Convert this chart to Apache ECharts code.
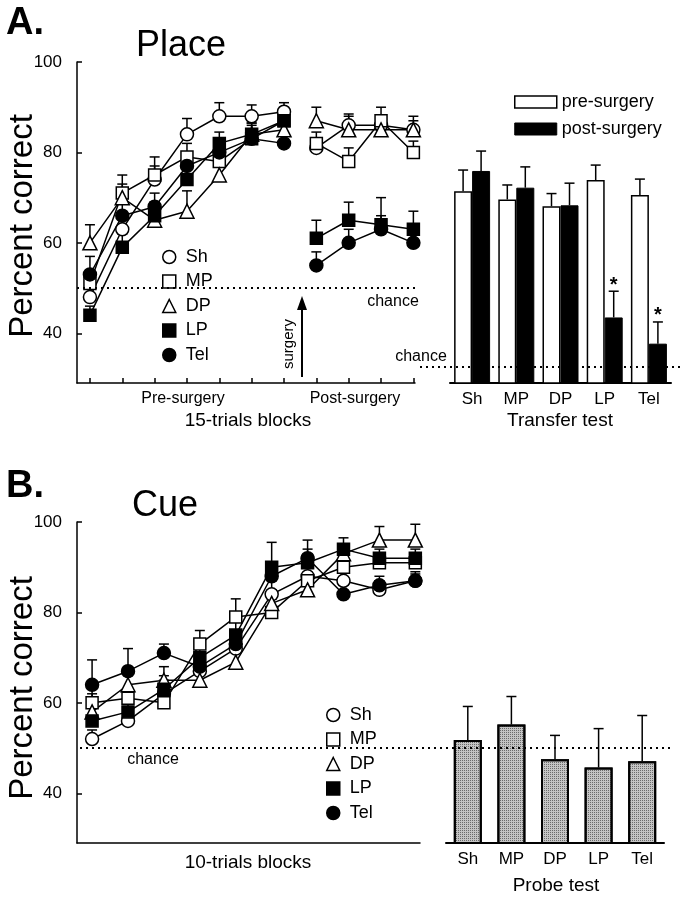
<!DOCTYPE html>
<html><head><meta charset="utf-8">
<script src="https://cdn.jsdelivr.net/npm/echarts@6/dist/echarts.min.js"></script>
<style>html,body{margin:0;padding:0;background:#fff}#c{width:688px;height:900px}</style>
</head><body><div id="c"></div>
<script>
// ---------- DATA ----------
const groups = ['Sh', 'MP', 'DP', 'LP', 'Tel'];
// Panel A (Place) – 15-trial blocks, pre-surgery (7) and post-surgery (4)
const placePre = {
  Sh:  [48, 63, 74, 84, 88, 88, 89],
  MP:  [51, 71, 75, 79, 78, 83, 87],
  DP:  [60, 70, 65, 67, 75, 84, 85],
  LP:  [44, 59, 66, 74, 82, 84, 87],
  Tel: [53, 66, 68, 77, 80, 83, 82]
};
const placePreErr = {
  Sh:  [2, 3, 3, 3.5, 3, 2.5, 2],
  MP:  [2, 4, 4, 3, 3, 3, 2.5],
  DP:  [4, 3, 4, 4.5, 3, 2.5, 2],
  LP:  [2, 3, 3, 3, 2.5, 2.5, 2],
  Tel: [4, 3, 3, 3, 3, 2, 2]
};
const placePost = {
  Sh:  [81, 86, 86, 85],
  MP:  [82, 78, 87, 80],
  DP:  [87, 85, 85, 85],
  LP:  [61, 65, 64, 63],
  Tel: [55, 60, 63, 60]
};
const placePostErr = {
  Sh:  [2, 2.5, 2, 2],
  MP:  [2.5, 3, 3, 2.5],
  DP:  [3, 3, 3, 3],
  LP:  [4, 4, 6, 4],
  Tel: [3, 3, 3, 3]
};
// Transfer test
const transferPre = [71.4, 69.6, 68.1, 73.9, 70.6];
const transferPreErr = [4.7, 3.2, 2.8, 3.3, 3.5];
const transferPost = [75.9, 72.2, 68.3, 43.5, 37.7];
const transferPostErr = [4.4, 4.6, 4.9, 5.8, 4.8];
const transferSig = ['', '', '', '*', '*'];
const transferChance = 32.5;
// Panel B (Cue) – 10-trial blocks
const cue = {
  Sh:  [52, 56, 62, 67, 72, 84, 88, 87, 85, 87],
  MP:  [60, 61, 60, 73, 79, 80, 87, 90, 91, 91],
  DP:  [58, 64, 65, 65, 69, 82, 85, 93, 96, 96],
  LP:  [56, 58, 63, 70, 75, 90, 91, 94, 92, 92],
  Tel: [64, 67, 71, 68, 73, 88, 92, 84, 86, 87]
};
const cueErr = {
  Sh:  [2, 3, 3, 3, 3, 3, 2, 2, 2, 1.5],
  MP:  [4, 5, 3, 3, 4, 3, 3, 2, 2, 2],
  DP:  [4, 4, 3, 3, 3, 3, 3, 2, 3, 3.5],
  LP:  [4, 4, 3, 3, 3, 5.5, 3, 2.5, 2, 2],
  Tel: [5.5, 5, 2, 3, 3, 3, 4, 2, 2, 2]
};
// Probe test
const probe = [51.8, 55.2, 47.5, 45.7, 47.1];
const probeErr = [7.4, 6.2, 5.3, 8.6, 10.1];
const chance = 50;
const yTicks = [40, 60, 80, 100];

// ---------- STYLE ----------
const FONT = '"Liberation Sans", Arial, sans-serif';
const symbols = {Sh: 'circle', MP: 'rect', DP: 'triangle', LP: 'rect', Tel: 'circle'};
const fills = {Sh: '#fff', MP: '#fff', DP: '#fff', LP: '#000', Tel: '#000'};
const sizes = {Sh: 13, MP: 12, DP: 14, LP: 12, Tel: 13};

function lineSeries(name, values, xOffset, ai) {
  return {
    type: 'line', name, xAxisIndex: ai, yAxisIndex: ai,
    data: values.map((v, i) => [i + xOffset, v]),
    symbol: symbols[name], symbolSize: sizes[name],
    lineStyle: {color: '#000', width: 1.5},
    itemStyle: {color: fills[name], borderColor: '#000', borderWidth: 1.5},
    z: 3, animation: false, silent: true
  };
}
function errRender(dx, marks) {
  return function (params, api) {
    const x = api.value(0), y = api.value(1), e = api.value(2);
    const p0 = api.coord([x, y]), p1 = api.coord([x, y + e]);
    const cx = p0[0] + dx;
    const children = [
      {type: 'line', shape: {x1: cx, y1: p0[1], x2: cx, y2: p1[1]}, style: {stroke: '#000', lineWidth: 1.5}},
      {type: 'line', shape: {x1: cx - 5, y1: p1[1], x2: cx + 5, y2: p1[1]}, style: {stroke: '#000', lineWidth: 1.5}}
    ];
    if (marks && marks[params.dataIndex]) {
      children.push({type: 'text', style: {text: marks[params.dataIndex], x: cx, y: p1[1] - 6,
        align: 'center', verticalAlign: 'middle', font: 'bold 20px ' + FONT, fill: '#000'}});
    }
    return {type: 'group', children};
  };
}
function errSeries(values, errs, xOffset, ai, dx, marks, z) {
  return {
    type: 'custom', xAxisIndex: ai, yAxisIndex: ai,
    data: values.map((v, i) => [i + xOffset, v, errs[i]]),
    renderItem: errRender(dx || 0, marks), z: z || 2, silent: true, animation: false
  };
}
const dotted = {color: '#000', width: 2, type: [2, 4]};

const series = [];
groups.forEach(g => {
  series.push(errSeries(placePre[g], placePreErr[g], 0, 0));
  series.push(errSeries(placePost[g], placePostErr[g], 7, 0));
  series.push(lineSeries(g, placePre[g], 0, 0));
  series.push(lineSeries(g, placePost[g], 7, 0));
  series.push(errSeries(cue[g], cueErr[g], 0, 2));
  series.push(lineSeries(g, cue[g], 0, 2));
});
// chance lines
series[2].markLine = {silent: true, symbol: 'none', label: {show: false}, lineStyle: dotted, data: [{yAxis: chance}]};
series[5].markLine = {silent: true, symbol: 'none', label: {show: false}, lineStyle: dotted,
  data: [[{yAxis: chance, x: 80}, {yAxis: chance, x: 670}]]};

// transfer bars
series.push({
  type: 'bar', name: 'pre-surgery', xAxisIndex: 1, yAxisIndex: 1, data: transferPre,
  barWidth: 18, barGap: '0%', itemStyle: {color: '#fff', borderColor: '#000', borderWidth: 1.5},
  animation: false, silent: true,
  markLine: {silent: true, symbol: 'none', label: {show: false}, lineStyle: dotted,
    data: [[{yAxis: transferChance, x: 420}, {yAxis: transferChance, x: 684}]]}
});
series.push({
  type: 'bar', name: 'post-surgery', xAxisIndex: 1, yAxisIndex: 1, data: transferPost,
  barWidth: 18, barGap: '0%', itemStyle: {color: '#000', borderColor: '#000', borderWidth: 1},
  animation: false, silent: true
});
series.push(errSeries(transferPre, transferPreErr, 0, 1, -9, null, 4));
series.push(errSeries(transferPost, transferPostErr, 0, 1, 9, transferSig, 4));
// probe bars
series.push({
  type: 'bar', name: 'probe', xAxisIndex: 3, yAxisIndex: 3, data: probe,
  barWidth: 28,
  itemStyle: {color: '#c4c4c4', borderColor: '#000', borderWidth: 2,
    decal: {symbol: 'rect', symbolSize: 1, color: 'rgba(0,0,0,0.45)', dashArrayX: [1, 1], dashArrayY: [1, 1], rotation: 0}},
  animation: false, silent: true
});
series.push(errSeries(probe, probeErr, 0, 3, 0, null, 4));

const axisLine = {show: true, onZero: false, lineStyle: {color: '#000', width: 1.5}};
function yAxisLine(gi) {
  return {
    type: 'value', gridIndex: gi, min: 29, max: 100,
    axisLine: axisLine, splitLine: {show: false},
    axisTick: {show: true, inside: true, length: 5, customValues: yTicks, lineStyle: {color: '#000', width: 1.5}},
    axisLabel: {show: true, customValues: yTicks, color: '#000', fontSize: 17, fontFamily: FONT, margin: 15}
  };
}
function yAxisHidden(gi) {
  return {type: 'value', gridIndex: gi, min: 29, max: 100, show: false, splitLine: {show: false}};
}
function catAxis(gi) {
  return {
    type: 'category', gridIndex: gi, data: groups,
    axisLine: {show: true, onZero: false, lineStyle: {color: '#000', width: 2}},
    axisTick: {show: false},
    axisLabel: {color: '#000', fontSize: 17, fontFamily: FONT, margin: 8}
  };
}

const legendText = {color: '#000', fontSize: 18, fontFamily: FONT, padding: [0, 0, 0, 5]};
function symLegend(left, top) {
  return {
    orient: 'vertical', left, top, padding: 0, itemWidth: 13, itemHeight: 13, itemGap: 6.5,
    selectedMode: false, textStyle: legendText,
    data: groups.map(g => ({name: g, icon: symbols[g],
      itemStyle: {color: fills[g], borderColor: '#000', borderWidth: 1.5}}))
  };
}

const txt = (text, x, y, font, opts) => Object.assign({
  type: 'text', x, y, silent: true,
  style: {text, font: font + ' ' + FONT, fill: '#000', align: (opts && opts.align) || 'center', verticalAlign: 'middle'}
}, opts && opts.el ? opts.el : {});

const option = {
  backgroundColor: '#fff',
  animation: false,
  grid: [
    {left: 77, top: 62, width: 338, height: 321},
    {left: 450, top: 62, width: 221, height: 321},
    {left: 77, top: 522, width: 343, height: 321},
    {left: 446, top: 522, width: 218, height: 321}
  ],
  xAxis: [
    {type: 'value', gridIndex: 0, min: -0.4, max: 10.05, axisLine: axisLine, splitLine: {show: false},
      axisTick: {show: true, inside: true, length: 5, customValues: [0,1,2,3,4,5,6,7,8,9,10], lineStyle: {color: '#000', width: 1.5}},
      axisLabel: {show: false}},
    catAxis(1),
    {type: 'value', gridIndex: 2, min: -0.42, max: 9.13, axisLine: axisLine, splitLine: {show: false},
      axisTick: {show: false}, axisLabel: {show: false}},
    catAxis(3)
  ],
  yAxis: [yAxisLine(0), yAxisHidden(1), yAxisLine(2), yAxisHidden(3)],
  legend: [
    symLegend(162, 248),
    symLegend(326, 706),
    {orient: 'vertical', left: 514, top: 93, padding: 0, itemWidth: 42, itemHeight: 12, itemGap: 9,
      selectedMode: false, textStyle: {color: '#000', fontSize: 18, fontFamily: FONT, padding: [0, 0, 0, 0]},
      data: [
        {name: 'pre-surgery', icon: 'rect', itemStyle: {color: '#fff', borderColor: '#000', borderWidth: 1.5}},
        {name: 'post-surgery', icon: 'rect', itemStyle: {color: '#000', borderColor: '#000', borderWidth: 1}}
      ]}
  ],
  graphic: [
    txt('A.', 6, 24, 'bold 38px', {align: 'left'}),
    txt('B.', 6, 487, 'bold 38px', {align: 'left'}),
    txt('Place', 181, 46, '36px'),
    txt('Cue', 165, 506, '36px'),
    txt('Percent correct', 23, 226, '33px', {el: {rotation: Math.PI / 2}}),
    txt('Percent correct', 23, 688, '33px', {el: {rotation: Math.PI / 2}}),
    txt('Pre-surgery', 183, 399, '16px'),
    txt('Post-surgery', 355, 399, '16px'),
    txt('15-trials blocks', 248, 421, '19px'),
    txt('Transfer test', 560, 421, '19px'),
    txt('10-trials blocks', 248, 863, '19px'),
    txt('Probe test', 556, 886, '19px'),
    txt('chance', 393, 302, '16px'),
    txt('chance', 421, 357, '16px'),
    txt('chance', 153, 760, '16px'),
    txt('surgery', 289, 344, '15px', {el: {rotation: Math.PI / 2}}),
    {type: 'line', silent: true, shape: {x1: 302, y1: 377, x2: 302, y2: 306}, style: {stroke: '#000', lineWidth: 2}},
    {type: 'polygon', silent: true, shape: {points: [[297, 310], [307, 310], [302, 296]]}, style: {fill: '#000'}}
  ],
  series
};
const chart = echarts.init(document.getElementById('c'), null, {renderer: 'canvas', width: 688, height: 900});
chart.setOption(option);
</script>
</body></html>
